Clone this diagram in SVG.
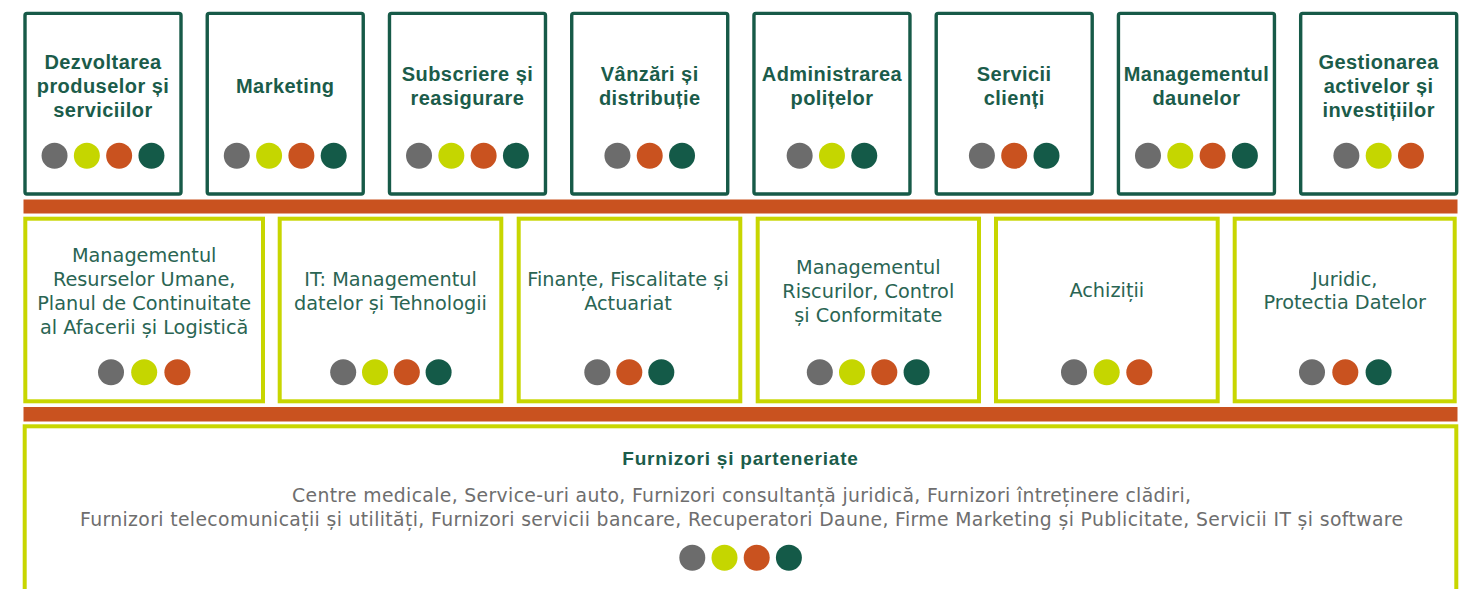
<svg xmlns="http://www.w3.org/2000/svg" width="1465" height="589" viewBox="0 0 1465 589">
<style>
.top{fill:#fff;stroke:#175a48;stroke-width:3.4}
.mid{fill:#fff;stroke:#c8d600;stroke-width:4}
.bar{fill:#c9521f}
.h{font-family:"Liberation Sans",Arial,sans-serif;font-weight:bold;font-size:20px;letter-spacing:0.45px;fill:#1b5c4a;text-anchor:middle}
.m{font-family:"DejaVu Sans",sans-serif;font-size:19.3px;fill:#2a6553;text-anchor:middle}
.b{font-family:"DejaVu Sans",sans-serif;font-size:18.8px;fill:#6e6e6e;text-anchor:middle}
.g{fill:#6c6c6c}.l{fill:#c5d600}.o{fill:#c9521f}.d{fill:#145a48}
</style>
<rect width="1465" height="589" fill="#fff"/>
<g id="separators">
<rect class="bar" x="23.5" y="199.5" width="1434" height="14"/>
<rect class="bar" x="23.5" y="407" width="1434" height="14.5"/>
</g>
<g id="connectors"></g>

<g id="n1">
<rect class="top" x="25" y="13.4" width="156" height="180.6" rx="2"/>
<text class="h" x="103" y="69">Dezvoltarea</text>
<text class="h" x="103" y="93">produselor și</text>
<text class="h" x="103" y="117">serviciilor</text>
<circle class="g" cx="54.55" cy="155.7" r="13"/><circle class="l" cx="86.85" cy="155.7" r="13"/><circle class="o" cx="119.15" cy="155.7" r="13"/><circle class="d" cx="151.45" cy="155.7" r="13"/>
</g>
<g id="n2">
<rect class="top" x="207.24" y="13.4" width="156" height="180.6" rx="2"/>
<text class="h" x="285.24" y="93">Marketing</text>
<circle class="g" cx="236.79" cy="155.7" r="13"/><circle class="l" cx="269.09" cy="155.7" r="13"/><circle class="o" cx="301.39" cy="155.7" r="13"/><circle class="d" cx="333.69" cy="155.7" r="13"/>
</g>
<g id="n3">
<rect class="top" x="389.48" y="13.4" width="156" height="180.6" rx="2"/>
<text class="h" x="467.48" y="81">Subscriere și</text>
<text class="h" x="467.48" y="105">reasigurare</text>
<circle class="g" cx="419.03" cy="155.7" r="13"/><circle class="l" cx="451.33" cy="155.7" r="13"/><circle class="o" cx="483.63" cy="155.7" r="13"/><circle class="d" cx="515.93" cy="155.7" r="13"/>
</g>
<g id="n4">
<rect class="top" x="571.72" y="13.4" width="156" height="180.6" rx="2"/>
<text class="h" x="649.72" y="81">Vânzări și</text>
<text class="h" x="649.72" y="105">distribuție</text>
<circle class="g" cx="617.42" cy="155.7" r="13"/><circle class="o" cx="649.72" cy="155.7" r="13"/><circle class="d" cx="682.02" cy="155.7" r="13"/>
</g>
<g id="n5">
<rect class="top" x="753.96" y="13.4" width="156" height="180.6" rx="2"/>
<text class="h" x="831.96" y="81">Administrarea</text>
<text class="h" x="831.96" y="105">polițelor</text>
<circle class="g" cx="799.66" cy="155.7" r="13"/><circle class="l" cx="831.96" cy="155.7" r="13"/><circle class="d" cx="864.26" cy="155.7" r="13"/>
</g>
<g id="n6">
<rect class="top" x="936.2" y="13.4" width="156" height="180.6" rx="2"/>
<text class="h" x="1014.2" y="81">Servicii</text>
<text class="h" x="1014.2" y="105">clienți</text>
<circle class="g" cx="981.9" cy="155.7" r="13"/><circle class="o" cx="1014.2" cy="155.7" r="13"/><circle class="d" cx="1046.5" cy="155.7" r="13"/>
</g>
<g id="n7">
<rect class="top" x="1118.44" y="13.4" width="156" height="180.6" rx="2"/>
<text class="h" x="1196.44" y="81">Managementul</text>
<text class="h" x="1196.44" y="105">daunelor</text>
<circle class="g" cx="1147.99" cy="155.7" r="13"/><circle class="l" cx="1180.29" cy="155.7" r="13"/><circle class="o" cx="1212.59" cy="155.7" r="13"/><circle class="d" cx="1244.89" cy="155.7" r="13"/>
</g>
<g id="n8">
<rect class="top" x="1300.68" y="13.4" width="156" height="180.6" rx="2"/>
<text class="h" x="1378.68" y="69">Gestionarea</text>
<text class="h" x="1378.68" y="93">activelor și</text>
<text class="h" x="1378.68" y="117">investițiilor</text>
<circle class="g" cx="1346.38" cy="155.7" r="13"/><circle class="l" cx="1378.68" cy="155.7" r="13"/><circle class="o" cx="1410.98" cy="155.7" r="13"/>
</g>

<g id="s1">
<rect class="mid" x="25.3" y="218.7" width="237.7" height="182.6"/>
<text class="m" x="144.2" y="262">Managementul</text>
<text class="m" x="144.2" y="286">Resurselor Umane,</text>
<text class="m" x="144.2" y="310">Planul de Continuitate</text>
<text class="m" x="144.2" y="334">al Afacerii și Logistică</text>
<circle class="g" cx="111" cy="372.3" r="13"/><circle class="l" cx="144.2" cy="372.3" r="13"/><circle class="o" cx="177.4" cy="372.3" r="13"/>
</g>
<g id="s2">
<rect class="mid" x="279.7" y="218.7" width="221.6" height="182.6"/>
<text class="m" x="390.5" y="286">IT: Managementul</text>
<text class="m" x="390.5" y="310">datelor și Tehnologii</text>
<circle class="g" cx="343.2" cy="372.3" r="13"/><circle class="l" cx="375" cy="372.3" r="13"/><circle class="o" cx="406.8" cy="372.3" r="13"/><circle class="d" cx="438.6" cy="372.3" r="13"/>
</g>
<g id="s3">
<rect class="mid" x="518.7" y="218.7" width="221.6" height="182.6"/>
<text class="m" x="628" y="286">Finanțe, Fiscalitate și</text>
<text class="m" x="628" y="310">Actuariat</text>
<circle class="g" cx="597.3" cy="372.3" r="13"/><circle class="o" cx="629.3" cy="372.3" r="13"/><circle class="d" cx="661.3" cy="372.3" r="13"/>
</g>
<g id="s4">
<rect class="mid" x="757.7" y="218.7" width="221.3" height="182.6"/>
<text class="m" x="868.3" y="274">Managementul</text>
<text class="m" x="868.3" y="298">Riscurilor, Control</text>
<text class="m" x="868.3" y="322">și Conformitate</text>
<circle class="g" cx="819.8" cy="372.3" r="13"/><circle class="l" cx="852" cy="372.3" r="13"/><circle class="o" cx="884.3" cy="372.3" r="13"/><circle class="d" cx="916.6" cy="372.3" r="13"/>
</g>
<g id="s5">
<rect class="mid" x="996" y="218.7" width="221.7" height="182.6"/>
<text class="m" x="1106.8" y="297">Achiziții</text>
<circle class="g" cx="1074" cy="372.3" r="13"/><circle class="l" cx="1106.7" cy="372.3" r="13"/><circle class="o" cx="1139.3" cy="372.3" r="13"/>
</g>
<g id="s6">
<rect class="mid" x="1234.7" y="218.7" width="220" height="182.6"/>
<text class="m" x="1344.7" y="286">Juridic,</text>
<text class="m" x="1344.7" y="309">Protectia Datelor</text>
<circle class="g" cx="1312" cy="372.3" r="13"/><circle class="o" cx="1345.3" cy="372.3" r="13"/><circle class="d" cx="1378.6" cy="372.3" r="13"/>
</g>

<g id="furnizori">
<rect class="mid" x="24.7" y="426.3" width="1431.6" height="200"/>
<text class="h" x="740.5" y="465" style="font-size:19px;letter-spacing:0.8px">Furnizori și parteneriate</text>
<text class="b" x="741.5" y="501.5" textLength="899" lengthAdjust="spacing">Centre medicale, Service-uri auto, Furnizori consultanță juridică, Furnizori întreținere clădiri,</text>
<text class="b" x="741.5" y="526" textLength="1323" lengthAdjust="spacing">Furnizori telecomunicații și utilități, Furnizori servicii bancare, Recuperatori Daune, Firme Marketing și Publicitate, Servicii IT și software</text>
<circle class="g" cx="692.3" cy="557.7" r="13"/><circle class="l" cx="724.5" cy="557.7" r="13"/><circle class="o" cx="756.7" cy="557.7" r="13"/><circle class="d" cx="788.9" cy="557.7" r="13"/>
</g>
</svg>
